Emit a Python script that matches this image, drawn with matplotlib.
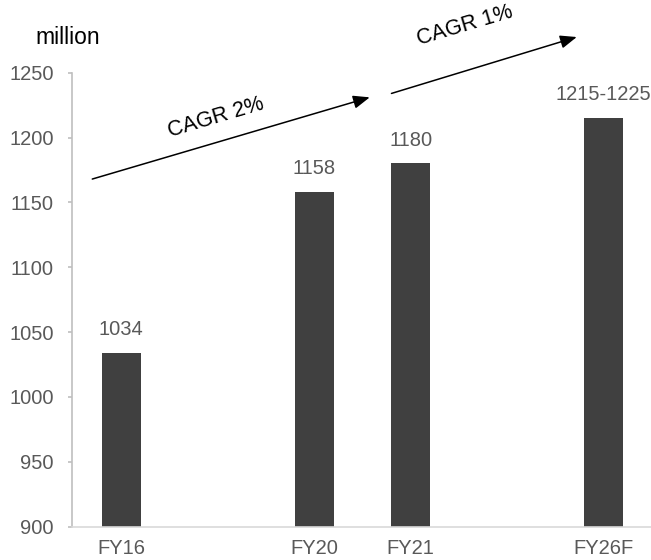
import matplotlib
matplotlib.use('Agg')
import matplotlib.pyplot as plt

# data
years = ['FY16', 'FY20', 'FY21', 'FY26F']
xpos = [0, 2, 3, 5]          # FY20/FY21 sit one slot apart, the others two
values = [1034, 1158, 1180, 1215]
value_labels = ['1034', '1158', '1180', '1215-1225']
cagr_text = ['CAGR 2%', 'CAGR 1%']

plt.rcParams['font.family'] = ['Liberation Sans', 'DejaVu Sans']
fs = 14.5

fig = plt.figure(figsize=(6.51, 5.6), dpi=100)
ax = fig.add_axes([0.1106, 0.0595, 0.891, 0.8107])

ax.bar(xpos, values, width=0.4, color='#404040', zorder=2)

ax.set_ylim(900, 1250)
ax.set_xlim(-0.51, 5.5)
ax.set_yticks(range(900, 1251, 50))
ax.set_xticks(xpos)
ax.set_xticklabels(years)

grey = '#595959'
for s in ['top', 'right']:
    ax.spines[s].set_visible(False)
ax.spines['left'].set_color('#bfbfbf')
ax.spines['bottom'].set_color('#d9d9d9')
ax.spines['left'].set_linewidth(1.2)
ax.spines['bottom'].set_linewidth(1.2)
ax.tick_params(axis='y', colors='#bfbfbf', labelcolor=grey, labelsize=fs,
               length=3, width=1.2, pad=10)
ax.tick_params(axis='x', length=0, labelcolor=grey, labelsize=fs, pad=9)

# value labels above the bars
for x, v, t in zip(xpos, values, value_labels):
    ax.annotate(t, (x, v), xytext=(0, 10), textcoords='offset points',
                ha='center', va='bottom', fontsize=fs, color=grey,
                annotation_clip=False)

# growth arrows
arrow = dict(arrowstyle='-|>,head_length=1.0,head_width=0.4', color='black',
             lw=1.1, shrinkA=0, shrinkB=0)
ax.annotate('', xy=(2.575, 1231), xytext=(-0.30, 1168), arrowprops=arrow,
            annotation_clip=False)
ax.annotate('', xy=(4.72, 1277.5), xytext=(2.80, 1234), arrowprops=arrow,
            annotation_clip=False)
ax.text(0.98, 1215, cagr_text[0], rotation=16.5, ha='center', va='center',
        fontsize=15.5, color='black', rotation_mode='anchor', clip_on=False)
ax.text(3.56, 1286.5, cagr_text[1], rotation=16.5, ha='center', va='center',
        fontsize=15.5, color='black', rotation_mode='anchor', clip_on=False)

fig.text(68 / 651, 1 - 37 / 560, 'million', ha='center', va='center',
         fontsize=16.5, color='black')

fig.savefig('out.png', dpi=100)
